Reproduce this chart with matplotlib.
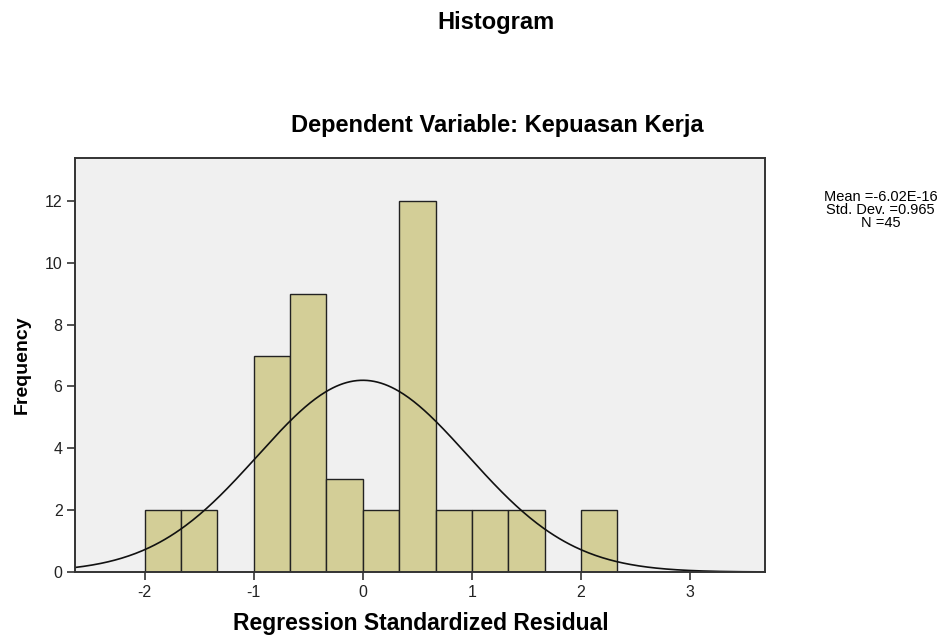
import numpy as np
import matplotlib.pyplot as plt

plt.rcParams['font.family'] = ['Liberation Sans', 'DejaVu Sans']
plt.rcParams['axes.unicode_minus'] = False

# 数据
bin_edges = [-2.0, -1.667, -1.333, -1.0, -0.667, -0.333, 0.0, 0.333, 0.667, 1.0, 1.333, 1.667, 2.0, 2.333]
counts = [2, 2, 0, 7, 9, 3, 2, 12, 2, 2, 2, 0, 2]
mean = -6.02e-16
std = 0.965
n = 45
stats_lines = ['Mean =-6.02E-16', 'Std. Dev. =0.965', 'N =45']

bar_color = '#d3ce97'

fig = plt.figure(figsize=(9.52, 6.36), dpi=100)
ax = fig.add_axes([0.0788, 0.1006, 0.7248, 0.651])
ax.set_facecolor('#f0f0f0')

lefts = np.array(bin_edges[:-1])
widths = np.diff(bin_edges)
ax.bar(lefts, counts, width=widths, align='edge', color=bar_color,
       edgecolor='#222222', linewidth=1.0)

# 正态曲线
x = np.linspace(-2.64, 3.69, 400)
bw = widths.mean()
y = n * bw / (std * np.sqrt(2 * np.pi)) * np.exp(-0.5 * ((x - mean) / std) ** 2)
ax.plot(x, y, color='#111111', linewidth=1.2)

ax.set_xlim(-2.64, 3.69)
ax.set_ylim(0, 13.39)
ax.set_xticks([-2, -1, 0, 1, 2, 3])
ax.set_yticks([0, 2, 4, 6, 8, 10, 12])
ax.tick_params(direction='out', length=6, width=1.2, color='#333333',
               labelsize=11.5, labelcolor='#222222', pad=3)
for s in ax.spines.values():
    s.set_color('#333333')
    s.set_linewidth(1.4)

ax.set_ylabel('Frequency', fontsize=14, fontweight='bold', labelpad=10)

fig.text(0.5215, 0.964, 'Histogram', ha='center', va='center', fontsize=17, fontweight='bold')
fig.text(0.522, 0.803, 'Dependent Variable: Kepuasan Kerja', ha='center', va='center',
         fontsize=17, fontweight='bold')
fig.text(0.442, 0.02, 'Regression Standardized Residual', ha='center', va='center',
         fontsize=16.5, fontweight='bold')
for i, line in enumerate(stats_lines):
    fig.text(0.925, 0.691 - i * 0.021, line, ha='center', va='center', fontsize=10.5)

plt.savefig('out.png', dpi=100)
